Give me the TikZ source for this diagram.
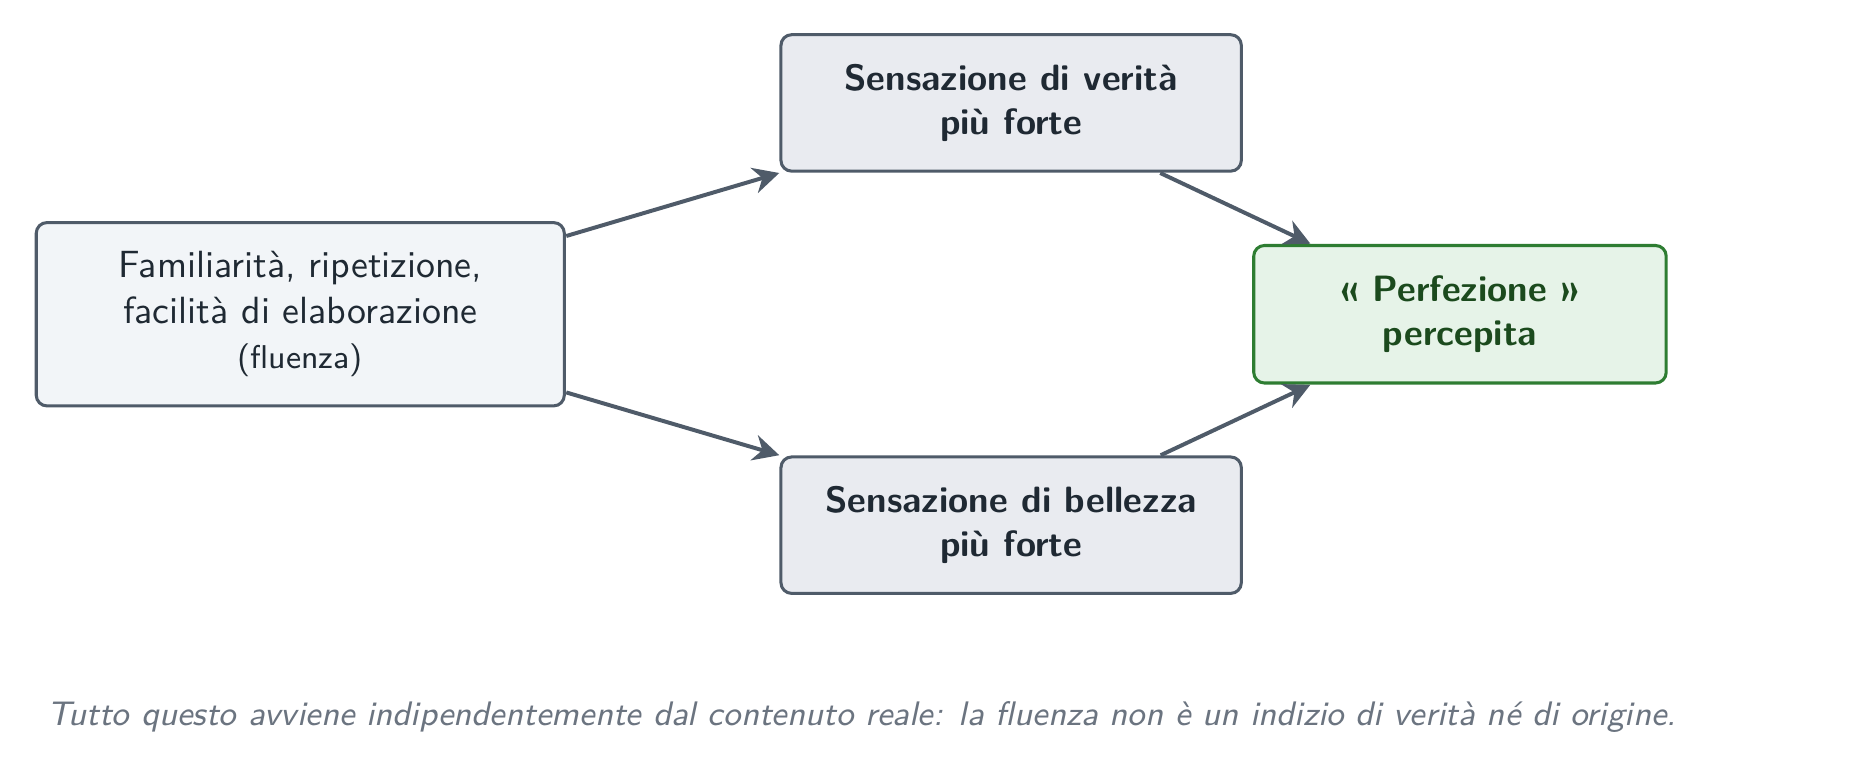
\documentclass[tikz,border=0pt]{standalone}
\definecolor{inkdark}{HTML}{1F2933}
\definecolor{edgegray}{HTML}{4F5B69}
\definecolor{srcbg}{HTML}{F2F5F8}
\definecolor{effbg}{HTML}{E9EBF0}
\definecolor{okgreen}{HTML}{2E7D32}
\definecolor{okgreenbg}{HTML}{E6F3E8}
\definecolor{okgreentxt}{HTML}{1B4A1D}
\definecolor{notegray}{HTML}{6B7480}
\usepackage{xcolor}
\usepackage{tikz}
\usetikzlibrary{arrows.meta,positioning}
\renewcommand{\familydefault}{\sfdefault}

\begin{document}
\begin{tikzpicture}[scale=1.2, transform shape,
      src/.style={draw=edgegray, fill=srcbg, line width=1pt, rounded corners=3.5pt,
                  minimum width=5.07cm, minimum height=1.76cm,
                  font=\fontsize{10.35}{12.4}\selectfont, text=inkdark, align=center},
      eff/.style={draw=edgegray, fill=effbg, line width=1pt, rounded corners=3.5pt,
                  minimum width=4.42cm, minimum height=1.31cm,
                  font=\bfseries, text=inkdark, align=center},
      res/.style={draw=okgreen, fill=okgreenbg, line width=1pt, rounded corners=3.5pt,
                  minimum width=3.96cm, minimum height=1.32cm,
                  font=\bfseries, text=okgreentxt, align=center},
      arr/.style={-{Stealth[length=3mm, width=3mm]}, line width=1.3pt, color=edgegray}
  ]
    \useasboundingbox (0,0) rectangle (17.925,-7.525);
    \node[src] (fl) at (2.883,-3.017) {Familiarità, ripetizione,\\ facilità di elaborazione\\ {\small (fluenza)}};
    \node[eff] (ve) at (9.708,-0.988) {Sensazione di verità\\ più forte};
    \node[eff] (be) at (9.708,-5.042) {Sensazione di bellezza\\ più forte};
    \node[res] (pe) at (14.017,-3.017) {« Perfezione »\\ percepita};
    \draw[arr] (fl) -- (ve.south west);
    \draw[arr] (fl) -- (be.north west);
    \draw[arr] (ve) -- (pe);
    \draw[arr] (be) -- (pe);
    \node[anchor=base west, inner sep=0pt, font=\fontsize{9.3}{11}\selectfont\itshape, text=notegray] (nt) at (0.45,-6.97)
      {Tutto questo avviene indipendentemente dal contenuto reale: la fluenza non è un indizio di verità né di origine.};
  \end{tikzpicture}
\end{document}
